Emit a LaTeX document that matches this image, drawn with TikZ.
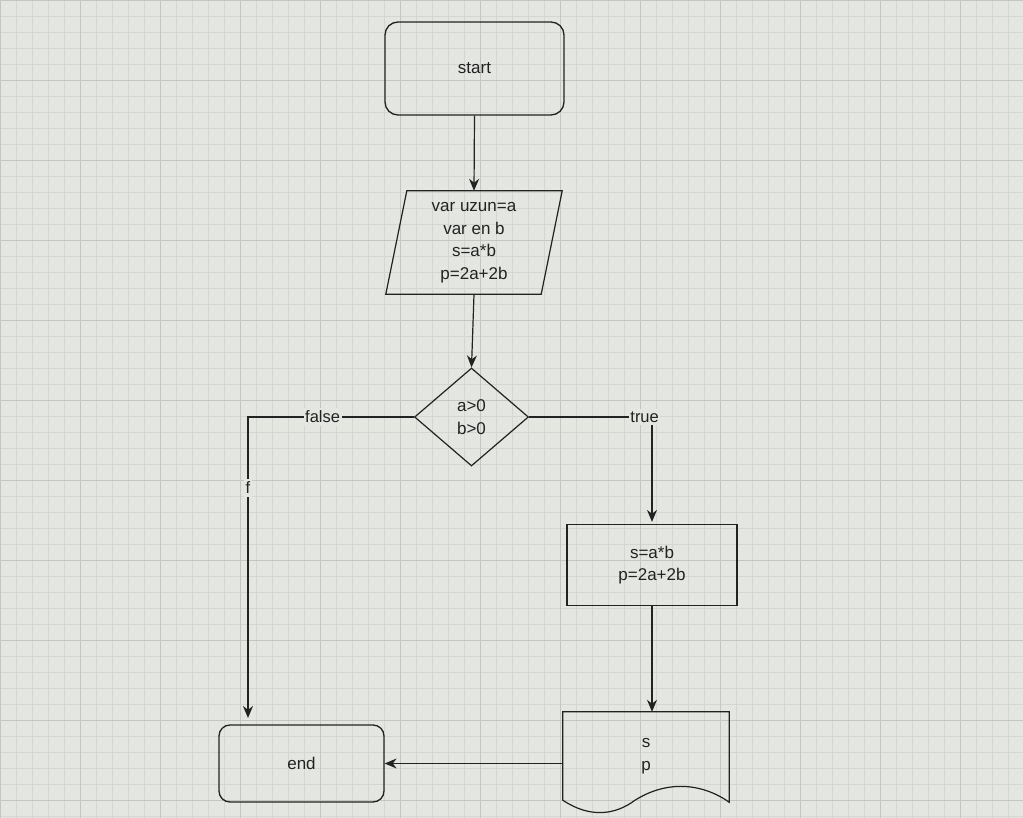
\documentclass[tikz,border=0pt]{standalone}
\usepackage{fontspec}
\setmainfont{Liberation Sans}
\usetikzlibrary{shapes.geometric,arrows.meta,calc}
\definecolor{bg}{HTML}{E4E6E2}
\definecolor{gridminor}{HTML}{D4D6D2}
\definecolor{gridmajor}{HTML}{C4C6C2}
\definecolor{ink}{HTML}{222222}
\begin{document}
\begin{tikzpicture}[x=1pt,y=-1pt,
  every node/.style={font=\fontsize{17}{22.5}\selectfont, text=ink, align=center},
  term/.style={draw=ink, line width=1.3pt, rounded corners=13pt, minimum width=#1, inner sep=0pt},
  term/.default=170pt,
  procbox/.style={draw=ink, line width=1.2pt, minimum width=170pt, minimum height=81pt, inner sep=0pt},
  hidden/.style={draw=none, inner sep=0pt},
  outline/.style={draw=ink, line width=1.2pt},
  decision/.style={diamond, draw=ink, line width=1.2pt, minimum width=114pt, minimum height=98pt, inner sep=0pt},
  flow/.style={draw=ink, line width=1.2pt, -{Stealth[length=12pt,width=10pt]}},
  lbl/.style={fill=bg, inner xsep=1.5pt, inner ysep=3pt, font=\fontsize{16.5}{18}\selectfont}
]
\useasboundingbox (0,0) rectangle (1023,818);
\fill[bg] (0,0) rectangle (1023,818);
\foreach \k in {0,16,...,1023} {\draw[gridminor, line width=0.5pt] (\k,0) -- (\k,818);}
\foreach \k in {0,16,...,818} {\draw[gridminor, line width=0.5pt] (0,\k) -- (1023,\k);}
\foreach \k in {0,80,...,1023} {\draw[gridmajor, line width=0.8pt] (\k,0) -- (\k,818);}
\foreach \k in {0,80,...,818} {\draw[gridmajor, line width=0.8pt] (0,\k) -- (1023,\k);}

% nodes
\node[term=179pt, minimum height=93pt] (start) at (474.5,68.5) {start};
\node[hidden, minimum width=176pt, minimum height=103pt] (io) at (474,242.5)
  {var uzun=a\\var en b\\s=a*b\\p=2a+2b};
\draw[outline] (io.south west) -- ($(io.north west)+(21,0)$)
  -- (io.north east) -- ($(io.south east)+(-21,0)$) -- cycle;
\node[decision] (dia) at (471.5,417) {a>0\\b>0};
\node[procbox] (proc) at (652,565) {s=a*b\\p=2a+2b};
\node[hidden, minimum width=166pt, minimum height=88pt] (doc) at (646,756)
  {s\\p};
\draw[outline] (doc.north west) -- (doc.north east)
  -- ($(doc.south east)+(0,2)$)
  .. controls ($(doc.south east)+(-24,-15)$) and ($(doc.south east)+(-59,-22)$) .. ($(doc.south)+(-11,0)$)
  .. controls ($(doc.south)+(-31,15)$) and ($(doc.south west)+(27,18)$) .. (doc.south west)
  -- cycle;
\node[term=165pt, minimum height=77pt, rounded corners=11pt] (end) at (301.5,763.5) {end};

% connectors
\coordinate (fcorner) at (248,417);
\coordinate (fend) at (248,718);
\draw[flow] (start.south) -- (io.north);
\draw[flow] (io.south) -- (dia.north);
\draw[flow] (dia.west) -- node[lbl,pos=0.55]{false} (fcorner)
  -- node[lbl,pos=0.235]{f} (fend);
\draw[flow] (dia.east) -| node[lbl,pos=0.47]{true} ($(proc.north)+(0,-2)$);
\draw[flow] (proc.south) -- (proc.south |- doc.north);
\draw[flow] (doc.west |- end) -- (end.east);
\end{tikzpicture}
\end{document}
